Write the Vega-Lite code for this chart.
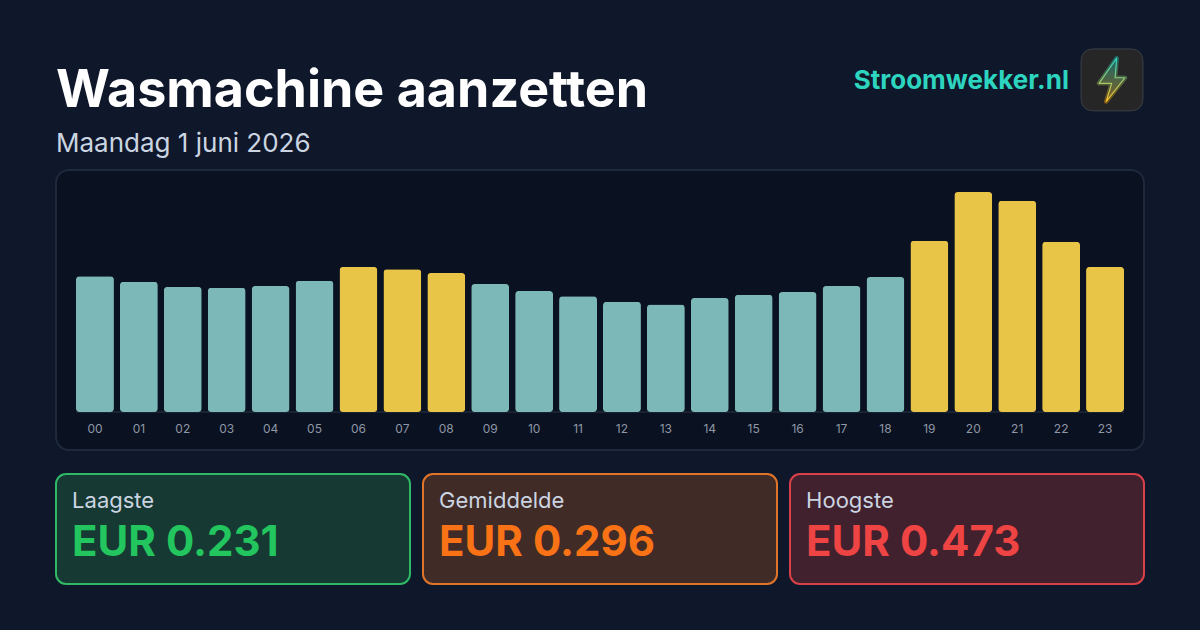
{
"$schema":"https://vega.github.io/schema/vega-lite/v6.json",
"background":"#0f172a",
"padding":{"left":55,"top":46,"right":55,"bottom":45},
"autosize":{"type":"pad"},
"config":{"font":"Inter","concat":{"spacing":13}},
"datasets":{
"uren":[
{"uur":"00","eur":0.292,"fase":"normaal"},{"uur":"01","eur":0.280,"fase":"normaal"},{"uur":"02","eur":0.269,"fase":"normaal"},{"uur":"03","eur":0.267,"fase":"normaal"},{"uur":"04","eur":0.271,"fase":"normaal"},{"uur":"05","eur":0.282,"fase":"normaal"},
{"uur":"06","eur":0.312,"fase":"duur"},{"uur":"07","eur":0.307,"fase":"duur"},{"uur":"08","eur":0.299,"fase":"duur"},{"uur":"09","eur":0.275,"fase":"normaal"},{"uur":"10","eur":0.260,"fase":"normaal"},{"uur":"11","eur":0.249,"fase":"normaal"},
{"uur":"12","eur":0.237,"fase":"normaal"},{"uur":"13","eur":0.231,"fase":"normaal"},{"uur":"14","eur":0.245,"fase":"normaal"},{"uur":"15","eur":0.252,"fase":"normaal"},{"uur":"16","eur":0.258,"fase":"normaal"},{"uur":"17","eur":0.271,"fase":"normaal"},
{"uur":"18","eur":0.290,"fase":"normaal"},{"uur":"19","eur":0.368,"fase":"duur"},{"uur":"20","eur":0.473,"fase":"duur"},{"uur":"21","eur":0.454,"fase":"duur"},{"uur":"22","eur":0.366,"fase":"duur"},{"uur":"23","eur":0.312,"fase":"duur"}
],
"kaarten":[
{"naam":"Laagste","tekst":"EUR 0.231","eur":0.231},
{"naam":"Gemiddelde","tekst":"EUR 0.296","eur":0.296},
{"naam":"Hoogste","tekst":"EUR 0.473","eur":0.473}
]
},
"vconcat":[
{"vconcat":[
{"width":1088,"height":110,
 "view":{"stroke":null},
 "title":{"text":"Wasmachine aanzetten","subtitle":"Maandag 1 juni 2026","anchor":"start","frame":"group","orient":"top","offset":-111,"fontSize":52,"fontWeight":700,"color":"#ffffff","subtitleFontSize":26,"subtitleFontWeight":400,"subtitleColor":"#cbd5e1","subtitlePadding":13,"subtitleLineHeight":30,"lineHeight":60},
 "data":{"values":[{"merk":"Stroomwekker.nl"}]},
 "layer":[
 {"mark":{"type":"text","align":"right","baseline":"alphabetic","fontSize":26,"fontWeight":700,"color":"#2dd4bf"},
  "encoding":{"x":{"datum":0.9311,"type":"quantitative","scale":{"domain":[0,1]},"axis":null},"y":{"datum":0.377,"type":"quantitative","scale":{"domain":[1,0]},"axis":null},"text":{"field":"merk"}}},
 {"mark":{"type":"point","filled":true,"fill":"#262626","stroke":"#3b3f46","strokeWidth":1,"opacity":1,"size":3844,"shape":"M-0.58,-1 H0.58 Q1,-1 1,-0.58 V0.58 Q1,1 0.58,1 H-0.58 Q-1,1 -1,0.58 V-0.58 Q-1,-1 -0.58,-1 Z"},
  "encoding":{"x":{"datum":0.9706,"type":"quantitative","scale":{"domain":[0,1]},"axis":null},"y":{"datum":0.29,"type":"quantitative","scale":{"domain":[1,0]},"axis":null}}},
 {"mark":{"type":"point","filled":false,"strokeWidth":4.5,"strokeJoin":"round","opacity":0.38,"size":3844,"stroke":{"x1":0.5,"y1":0,"x2":0.5,"y2":1,"gradient":"linear","stops":[{"offset":0,"color":"#22d3c5"},{"offset":1,"color":"#f59e0b"}]},"shape":"M0.15,-0.70 L-0.42,0.11 L-0.01,0.11 L-0.19,0.70 L0.42,-0.07 L0.10,-0.07 Z"},
  "encoding":{"x":{"datum":0.9706,"type":"quantitative","scale":{"domain":[0,1]},"axis":null},"y":{"datum":0.29,"type":"quantitative","scale":{"domain":[1,0]},"axis":null}}},
 {"mark":{"type":"point","filled":true,"opacity":1,"strokeWidth":1.2,"strokeJoin":"round","size":3844,"fill":{"x1":0.5,"y1":0,"x2":0.5,"y2":1,"gradient":"linear","stops":[{"offset":0,"color":"#16696c"},{"offset":1,"color":"#87601f"}]},"stroke":{"x1":0.5,"y1":0,"x2":0.5,"y2":1,"gradient":"linear","stops":[{"offset":0,"color":"#2dd4bf"},{"offset":1,"color":"#fbbf24"}]},"shape":"M0.15,-0.70 L-0.42,0.11 L-0.01,0.11 L-0.19,0.70 L0.42,-0.07 L0.10,-0.07 Z"},
  "encoding":{"x":{"datum":0.9706,"type":"quantitative","scale":{"domain":[0,1]},"axis":null},"y":{"datum":0.29,"type":"quantitative","scale":{"domain":[1,0]},"axis":null}}}
 ],
 "resolve":{"scale":{"x":"shared","y":"shared"}}
},
{"width":1088,"height":280,
 "view":{"fill":"#0a1120","stroke":"#1e293b","strokeWidth":2,"cornerRadius":13},
 "encoding":{
  "x":{"field":"uur","type":"ordinal","title":null,"scale":{"paddingInner":0.136,"paddingOuter":0.455},
   "axis":{"orient":"bottom","offset":-38,"labelAngle":0,"labelFontSize":12,"labelColor":"#8e97a6","labelPadding":11,"ticks":false,"domain":false,"grid":false}},
  "y":{"type":"quantitative","axis":null,"scale":{"domain":[-0.0817,0.5203],"nice":false,"zero":false}}
 },
 "layer":[
 {"data":{"values":[{"lijn":"basis"}]},
  "mark":{"type":"rule","color":"#2b3648","strokeWidth":1},
  "encoding":{"x":{"datum":"00","bandPosition":0},"x2":{"datum":"23"},"y":{"datum":0,"type":"quantitative"}}},
 {"data":{"values":[{"lijn":"basis"}]},
  "mark":{"type":"rule","color":"#2b3648","strokeWidth":1},
  "encoding":{"x":{"datum":"23","bandPosition":1},"x2":{"datum":"23"},"y":{"datum":0,"type":"quantitative"}}},
 {"data":{"name":"uren"},
  "mark":{"type":"bar","cornerRadius":3.5},
  "encoding":{
   "y":{"field":"eur","type":"quantitative"},
   "color":{"field":"fase","type":"nominal","legend":null,"scale":{"domain":["normaal","duur"],"range":["#7db8b8","#e8c547"]}}
  }}
 ]
}
],"spacing":11},
{"hconcat":[
{"width":354,"height":110,"view":{"fill":"#163a33","stroke":"#2fb866","strokeWidth":2,"cornerRadius":10},
 "data":{"name":"kaarten"},"transform":[{"filter":"datum.naam === 'Laagste'"}],
 "layer":[
 {"mark":{"type":"text","align":"left","baseline":"alphabetic","fontSize":22,"color":"#cbd5e1"},"encoding":{"x":{"datum":0.0455,"type":"quantitative","scale":{"domain":[0,1]},"axis":null},"y":{"datum":0.305,"type":"quantitative","scale":{"domain":[1,0]},"axis":null},"text":{"field":"naam"}}},
 {"mark":{"type":"text","align":"left","baseline":"alphabetic","fontSize":42,"fontWeight":700,"color":"#22c55e"},"encoding":{"x":{"datum":0.0455,"type":"quantitative","scale":{"domain":[0,1]},"axis":null},"y":{"datum":0.743,"type":"quantitative","scale":{"domain":[1,0]},"axis":null},"text":{"field":"tekst"}}}
 ]},
{"width":354,"height":110,"view":{"fill":"#412b27","stroke":"#e0752a","strokeWidth":2,"cornerRadius":10},
 "data":{"name":"kaarten"},"transform":[{"filter":"datum.naam === 'Gemiddelde'"}],
 "layer":[
 {"mark":{"type":"text","align":"left","baseline":"alphabetic","fontSize":22,"color":"#cbd5e1"},"encoding":{"x":{"datum":0.0455,"type":"quantitative","scale":{"domain":[0,1]},"axis":null},"y":{"datum":0.305,"type":"quantitative","scale":{"domain":[1,0]},"axis":null},"text":{"field":"naam"}}},
 {"mark":{"type":"text","align":"left","baseline":"alphabetic","fontSize":42,"fontWeight":700,"color":"#f97316"},"encoding":{"x":{"datum":0.0455,"type":"quantitative","scale":{"domain":[0,1]},"axis":null},"y":{"datum":0.743,"type":"quantitative","scale":{"domain":[1,0]},"axis":null},"text":{"field":"tekst"}}}
 ]},
{"width":354,"height":110,"view":{"fill":"#41212d","stroke":"#d9414a","strokeWidth":2,"cornerRadius":10},
 "data":{"name":"kaarten"},"transform":[{"filter":"datum.naam === 'Hoogste'"}],
 "layer":[
 {"mark":{"type":"text","align":"left","baseline":"alphabetic","fontSize":22,"color":"#cbd5e1"},"encoding":{"x":{"datum":0.0455,"type":"quantitative","scale":{"domain":[0,1]},"axis":null},"y":{"datum":0.305,"type":"quantitative","scale":{"domain":[1,0]},"axis":null},"text":{"field":"naam"}}},
 {"mark":{"type":"text","align":"left","baseline":"alphabetic","fontSize":42,"fontWeight":700,"color":"#ef4444"},"encoding":{"x":{"datum":0.0455,"type":"quantitative","scale":{"domain":[0,1]},"axis":null},"y":{"datum":0.743,"type":"quantitative","scale":{"domain":[1,0]},"axis":null},"text":{"field":"tekst"}}}
 ]}
],"spacing":11}
],
"spacing":22
}
